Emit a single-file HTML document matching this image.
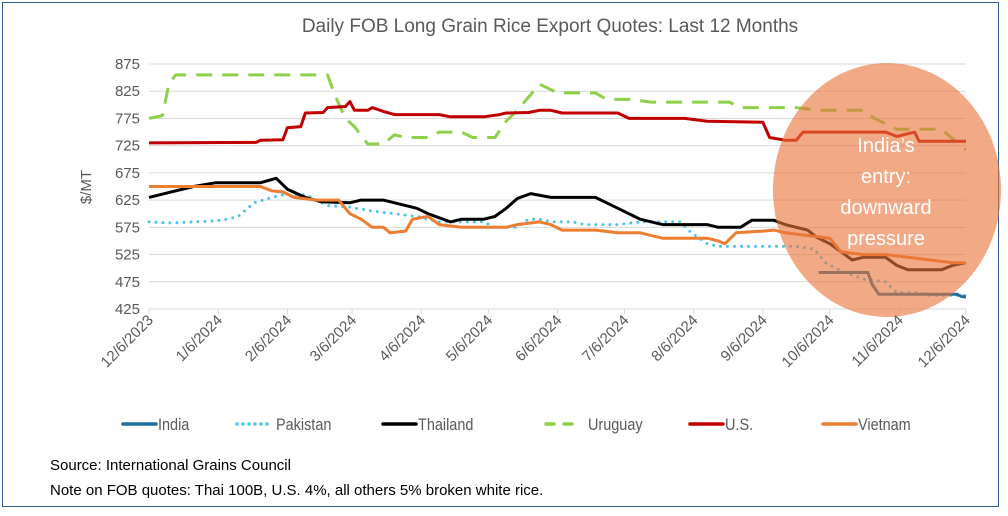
<!DOCTYPE html>
<html><head><meta charset="utf-8">
<style>
html,body{margin:0;padding:0;background:#fff;}
body{width:1008px;height:516px;overflow:hidden;font-family:"Liberation Sans",sans-serif;}
#frame{position:absolute;left:2px;top:2px;width:995px;height:503px;border:1.5px solid #2f5f8f;}
svg{position:absolute;left:0;top:0;}
.src{position:absolute;left:50px;font-family:"Liberation Sans Narrow","Liberation Sans",sans-serif;font-size:15px;color:#000;}
</style></head>
<body>
<div id="frame"></div>
<svg id="chart" width="1008" height="516"></svg>
<div class="src" style="top:457px">Source: International Grains Council</div>
<div class="src" style="top:482px">Note on FOB quotes: Thai 100B, U.S. 4%, all others 5% broken white rice.</div>
<script>
const yTicks=[425,475,525,575,625,675,725,775,825,875];
const xTickLabels=["12/6/2023","1/6/2024","2/6/2024","3/6/2024","4/6/2024","5/6/2024","6/6/2024","7/6/2024","8/6/2024","9/6/2024","10/6/2024","11/6/2024","12/6/2024"];
const xTickDays=[0,31,62,91,122,152,183,213,244,275,305,336,366];
const indiaDays=[300,322,324,327,350,362,364,366];
const indiaVals=[492,492,470,452,452,452,448,447];
const pakistanDays=[0,10,20,30,35,40,47,55,60,70,75,80,90,100,110,120,130,150,155,165,170,175,180,190,195,210,220,238,243,250,255,290,298,303,310,320,330,335,345,350,366];
const pakistanVals=[585,583,585,587,590,595,620,630,635,635,625,615,612,605,600,595,585,585,575,575,590,590,585,585,580,580,585,585,565,545,540,540,535,510,495,480,475,455,455,450,450];
const thailandDays=[0,10,20,30,50,57,62,70,77,90,95,105,110,120,125,135,140,150,155,160,165,171,180,200,205,215,220,230,250,255,265,270,280,285,295,299,305,310,315,320,330,335,340,355,360,366];
const thailandVals=[630,640,650,657,657,665,645,630,622,620,625,625,620,610,600,585,590,590,595,610,628,637,630,630,620,600,590,580,580,575,575,588,588,580,570,557,545,530,515,520,520,505,497,497,505,510];
const uruguayDays=[0,6,9,12,80,83,88,92,98,105,110,115,125,130,140,145,155,160,165,175,183,200,205,215,225,260,265,290,300,320,325,335,355,366];
const uruguayVals=[775,780,840,855,855,820,775,760,728,728,745,740,740,750,750,740,740,770,790,838,822,822,810,810,805,805,795,795,790,790,775,755,755,717];
const usDays=[0,48,50,60,62,68,70,78,80,88,90,92,98,100,105,110,130,135,150,157,160,170,175,180,185,210,215,240,250,275,278,285,290,293,330,335,343,345,366];
const usVals=[730,731,735,736,758,760,785,786,795,797,806,790,790,795,788,782,782,778,778,782,785,786,790,790,785,785,775,775,770,768,740,735,735,750,750,742,750,733,733];
const vietnamDays=[0,50,55,60,65,75,85,90,95,100,105,108,115,118,125,130,140,160,165,175,180,185,200,210,220,230,250,255,258,263,275,280,285,295,305,310,320,330,340,350,360,366];
const vietnamVals=[650,650,642,640,630,625,625,600,590,575,575,565,568,590,595,580,575,575,580,585,580,570,570,565,565,555,555,550,545,565,568,570,565,560,555,530,525,525,520,515,510,510];

const X0=149,X1=966,Y0=309,Y1=64;
const xs=d=>X0+(d/366)*(X1-X0);
const ys=v=>Y0-(v-425)/(875-425)*(Y0-Y1);
const NS="http://www.w3.org/2000/svg";
const svg=document.getElementById('chart');
function mk(tag,attrs,parent){const e=document.createElementNS(NS,tag);for(const k in attrs)e.setAttribute(k,attrs[k]);(parent||svg).appendChild(e);return e;}

const title=mk('text',{x:550,y:32,'text-anchor':'middle','font-size':19,fill:'#595959'});
title.textContent='Daily FOB Long Grain Rice Export Quotes: Last 12 Months';



yTicks.forEach(v=>{
  const g=mk('line',{x1:X0,x2:X1,y1:ys(v),y2:ys(v),stroke:'#d9d9d9','stroke-width':1});
  
  
  const t=mk('text',{x:140,y:ys(v)+5,'text-anchor':'end','font-size':15,fill:'#595959'});
  t.textContent=v;
  
  
});
const yl=mk('text',{transform:'translate(91,187) rotate(-90)','text-anchor':'middle','font-size':15,fill:'#595959'});
yl.textContent='$/MT';



xTickDays.forEach((d,i)=>{
  const x=xs(d);
  const tk=mk('line',{x1:x,x2:x,y1:Y0,y2:Y0+5,stroke:'#d9d9d9'});
  
  
  const t=mk('text',{transform:`translate(${x+5},${Y0+12}) rotate(-45)`,'text-anchor':'end','font-size':15,fill:'#595959'});
  t.textContent=xTickLabels[i];
  
  
});

function series(days,vals,color,dash,name,w){
  const pts=days.map((d,i)=>xs(d).toFixed(1)+','+ys(vals[i]).toFixed(1)).join(' ');
  const attrs={points:pts,fill:'none',stroke:color,'stroke-width':w||3,'stroke-linejoin':'round'};
  if(dash){attrs['stroke-dasharray']=dash;if(dash.startsWith('0'))attrs['stroke-linecap']='round';}
  const p=mk('polyline',attrs);
  
  
}
series(pakistanDays,pakistanVals,'#4cc2f2','0 7','pakistan-line',3);
series(uruguayDays,uruguayVals,'#8ed04a','16 10','uruguay-line',3);
series(usDays,usVals,'#c00000',null,'us-line',3);
series(thailandDays,thailandVals,'#000000',null,'thailand-line',3);
series(vietnamDays,vietnamVals,'#ed7d31',null,'vietnam-line',3);
series(indiaDays,indiaVals,'#1f6e9c',null,'india-line',3);

const ell=mk('ellipse',{cx:887,cy:190,rx:114,ry:127,fill:'#e9743c','fill-opacity':0.62});


['India’s','entry:','downward','pressure'].forEach((s,i)=>{
  const t=mk('text',{x:886,y:152+i*31,'text-anchor':'middle','font-size':20,fill:'#ffffff'});
  t.textContent=s;
  
  
});

const legend=[['India','#1f6e9c',null,123],['Pakistan','#4cc2f2','0 6',237],['Thailand','#000',null,383],['Uruguay','#8ed04a','8 10',546],['U.S.','#c00000',null,690],['Vietnam','#ed7d31',null,823]];
legend.forEach(([n,c,d,x])=>{
  const a={x1:x,x2:x+33,y1:424,y2:424,stroke:c,'stroke-width':3.5,'stroke-linecap':'round'};
  if(d)a['stroke-dasharray']=d;
  const l=mk('line',a);
  
  
  const tx=x+(n==='Pakistan'?39:n==='Uruguay'?42:35);
  const t=mk('text',{x:0,y:0,transform:`translate(${tx},430) scale(0.85,1)`,'font-size':17,fill:'#595959'});
  t.textContent=n;
  
  
});
</script>
</body></html>
